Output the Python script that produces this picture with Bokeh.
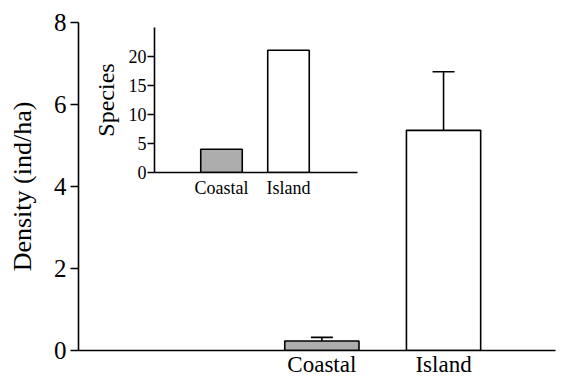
from bokeh.plotting import figure
from bokeh.models import Range1d, FixedTicker, Whisker, TeeHead, ColumnDataSource
from bokeh.layouts import column
from bokeh.embed import file_html
from bokeh.resources import INLINE

# ---- data ----
sites = ["Coastal", "Island"]
site_pos = [2, 3]
density = [0.23, 5.37]
density_err = [0.09, 1.43]
bar_colors = ["#adadad", "#ffffff"]

species = [4, 21]
inset_pos = [1, 2]

FONT = "Liberation Serif, serif"

# ---- main plot ----
p = figure(width=560, height=379, output_backend="svg", toolbar_location=None,
           x_range=Range1d(0, 3.92), y_range=Range1d(0, 8),
           min_border_left=78, min_border_right=0, min_border_top=22, min_border_bottom=29)
p.outline_line_color = None
p.xgrid.visible = False
p.ygrid.visible = False

src = ColumnDataSource(dict(x=site_pos, top=density, color=bar_colors,
                            upper=[d + e for d, e in zip(density, density_err)]))
p.vbar(x="x", top="top", width=0.61, bottom=0, source=src, fill_color="color",
       line_color="black", line_width=1.6)
wh = Whisker(source=src, base="x", lower="top", upper="upper", dimension="height",
             line_color="black", line_width=1.6, lower_head=None,
             upper_head=TeeHead(size=22, line_color="black", line_width=1.6),
             level="annotation")
p.add_layout(wh)

p.yaxis.ticker = FixedTicker(ticks=[0, 2, 4, 6, 8])
p.yaxis.minor_tick_line_color = None
p.yaxis.major_tick_in = 0
p.yaxis.major_tick_out = 8
p.yaxis.major_tick_line_width = 1.6
p.yaxis.axis_line_width = 1.6
p.yaxis.major_label_text_font = FONT
p.yaxis.major_label_text_font_size = "25px"
p.yaxis.major_label_text_color = "black"
p.yaxis.major_label_standoff = 4
p.yaxis.axis_label = "Density (ind/ha)"
p.yaxis.axis_label_text_font = FONT
p.yaxis.axis_label_text_font_size = "26px"
p.yaxis.axis_label_text_font_style = "normal"
p.yaxis.axis_label_text_color = "black"
p.yaxis.axis_label_standoff = 14

p.xaxis.ticker = FixedTicker(ticks=site_pos)
p.xaxis.major_label_overrides = {pos: name for pos, name in zip(site_pos, sites)}
p.xaxis.minor_tick_line_color = None
p.xaxis.major_tick_in = 0
p.xaxis.major_tick_out = 0
p.xaxis.axis_line_width = 1.6
p.xaxis.major_label_text_font = FONT
p.xaxis.major_label_text_font_size = "23px"
p.xaxis.major_label_text_color = "black"
p.xaxis.major_label_standoff = 1

# ---- inset ----
q = figure(width=286, height=190, output_backend="svg", toolbar_location=None,
           x_range=Range1d(0, 3.03), y_range=Range1d(0, 24.9),
           min_border_left=75, min_border_right=5, min_border_top=17, min_border_bottom=25)
q.outline_line_color = None
q.xgrid.visible = False
q.ygrid.visible = False
q.background_fill_alpha = 0
q.border_fill_alpha = 0
q.vbar(x=inset_pos, top=species, width=0.62, bottom=0, fill_color=bar_colors,
       line_color="black", line_width=1.6)

q.yaxis.ticker = FixedTicker(ticks=[0, 5, 10, 15, 20])
q.yaxis.minor_tick_line_color = None
q.yaxis.major_tick_in = 0
q.yaxis.major_tick_out = 7
q.yaxis.major_tick_line_width = 1.4
q.yaxis.axis_line_width = 1.6
q.yaxis.major_label_text_font = FONT
q.yaxis.major_label_text_font_size = "18px"
q.yaxis.major_label_text_color = "black"
q.yaxis.major_label_standoff = 1
q.yaxis.axis_label = "Species"
q.yaxis.axis_label_text_font = FONT
q.yaxis.axis_label_text_font_size = "24px"
q.yaxis.axis_label_text_font_style = "normal"
q.yaxis.axis_label_text_color = "black"
q.yaxis.axis_label_standoff = 7

q.xaxis.ticker = FixedTicker(ticks=inset_pos)
q.xaxis.major_label_overrides = {pos: name for pos, name in zip(inset_pos, sites)}
q.xaxis.minor_tick_line_color = None
q.xaxis.major_tick_in = 0
q.xaxis.major_tick_out = 0
q.xaxis.axis_line_width = 1.6
q.xaxis.major_label_text_font = FONT
q.xaxis.major_label_text_font_size = "18px"
q.xaxis.major_label_text_color = "black"
q.xaxis.major_label_standoff = 5

q.margin = (-369, 0, 0, 76)

layout = column(p, q)
open("out.html", "w").write(file_html(layout, INLINE))
